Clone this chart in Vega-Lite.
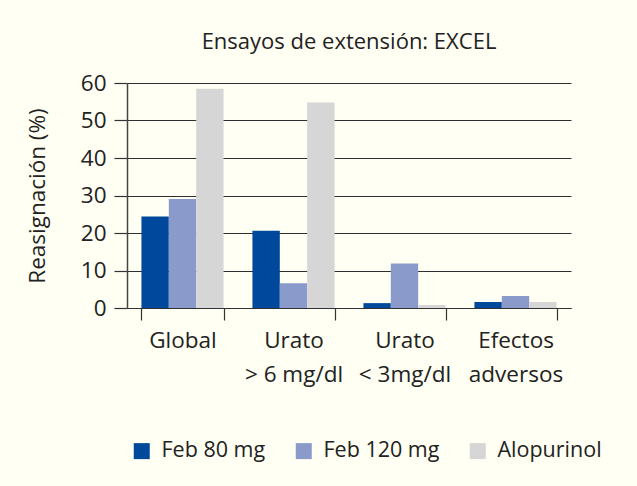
{
  "$schema": "https://vega.github.io/schema/vega-lite/v6.json",
  "autosize": {"type": "none"},
  "width": 444,
  "height": 225,
  "padding": {"left": 127, "top": 83, "right": 66, "bottom": 178},
  "background": "#FFFFF3",
  "title": {
    "text": "Ensayos de extensión: EXCEL",
    "anchor": "middle",
    "frame": "group",
    "offset": 18,
    "font": "Open Sans",
    "fontSize": 22,
    "fontWeight": "normal",
    "color": "#222222"
  },
  "data": {
    "values": [
      {"cat": "Global", "serie": "Feb 80 mg", "valor": 24.4},
      {"cat": "Global", "serie": "Feb 120 mg", "valor": 29.1},
      {"cat": "Global", "serie": "Alopurinol", "valor": 58.5},
      {"cat": "Urato|> 6 mg/dl", "serie": "Feb 80 mg", "valor": 20.6},
      {"cat": "Urato|> 6 mg/dl", "serie": "Feb 120 mg", "valor": 6.6},
      {"cat": "Urato|> 6 mg/dl", "serie": "Alopurinol", "valor": 54.8},
      {"cat": "Urato|< 3mg/dl", "serie": "Feb 80 mg", "valor": 1.3},
      {"cat": "Urato|< 3mg/dl", "serie": "Feb 120 mg", "valor": 11.9},
      {"cat": "Urato|< 3mg/dl", "serie": "Alopurinol", "valor": 0.8},
      {"cat": "Efectos|adversos", "serie": "Feb 80 mg", "valor": 1.6},
      {"cat": "Efectos|adversos", "serie": "Feb 120 mg", "valor": 3.2},
      {"cat": "Efectos|adversos", "serie": "Alopurinol", "valor": 1.6}
    ]
  },
  "mark": {"type": "bar"},
  "encoding": {
    "x": {
      "field": "cat",
      "type": "nominal",
      "sort": null,
      "scale": {"paddingInner": 0.26, "paddingOuter": 0.13},
      "axis": {
        "title": null,
        "labelAngle": 0,
        "labelExpr": "split(datum.label, '|')",
        "labelLineHeight": 34,
        "labelPadding": 9,
        "labelFont": "Open Sans",
        "labelFontSize": 22.5,
        "labelColor": "#222222",
        "tickBand": "extent",
        "tickSize": 12,
        "tickColor": "#333333",
        "tickWidth": 1.2,
        "domainColor": "#333333",
        "domainWidth": 1.2
      }
    },
    "xOffset": {
      "field": "serie",
      "type": "nominal",
      "sort": ["Feb 80 mg", "Feb 120 mg", "Alopurinol"],
      "scale": {"paddingInner": 0, "paddingOuter": 0}
    },
    "y": {
      "field": "valor",
      "type": "quantitative",
      "scale": {"domain": [0, 60]},
      "axis": {
        "title": "Reasignación (%)",
        "titleFont": "Open Sans",
        "titleFontSize": 22.5,
        "titleFontWeight": "normal",
        "titleColor": "#222222",
        "titlePadding": 31,
        "values": [0, 10, 20, 30, 40, 50, 60],
        "labelFont": "Open Sans",
        "labelFontSize": 22.5,
        "labelColor": "#222222",
        "labelPadding": 8,
        "tickSize": 13,
        "tickColor": "#333333",
        "tickWidth": 1.2,
        "domainColor": "#444444",
        "domainWidth": 1.5,
        "grid": true,
        "gridColor": "#2f2f2f",
        "gridWidth": 1.2
      }
    },
    "color": {
      "field": "serie",
      "type": "nominal",
      "sort": ["Feb 80 mg", "Feb 120 mg", "Alopurinol"],
      "scale": {
        "domain": ["Feb 80 mg", "Feb 120 mg", "Alopurinol"],
        "range": ["#00489C", "#8A9ACA", "#D6D6D6"]
      },
      "legend": {
        "title": null,
        "orient": "none",
        "direction": "horizontal",
        "legendX": 4,
        "legendY": 357,
        "padding": 0,
        "symbolType": "square",
        "symbolSize": 256,
        "symbolStrokeWidth": 0,
        "symbolOpacity": 1,
        "labelFont": "Open Sans",
        "labelFontSize": 21.5,
        "labelColor": "#222222",
        "labelOffset": 9,
        "columnPadding": 27
      }
    }
  },
  "config": {
    "view": {"stroke": null}
  }
}
